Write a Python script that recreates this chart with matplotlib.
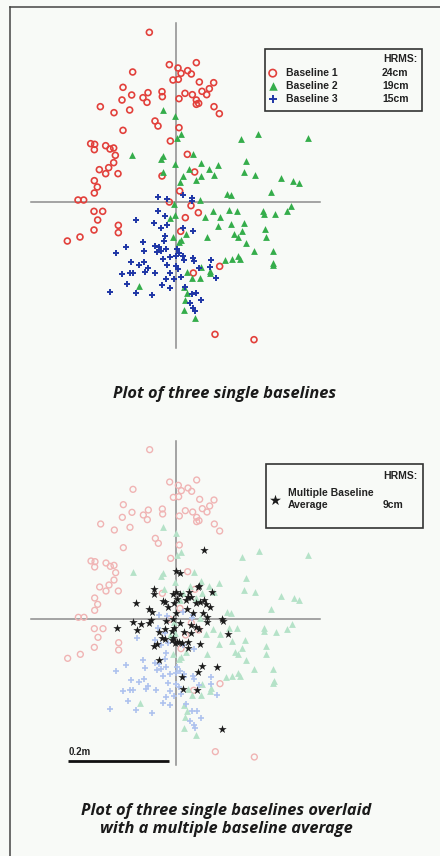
import numpy as np
import matplotlib.pyplot as plt
from matplotlib.patches import Rectangle

# marker positions, in scan units (304 units = 0.2 m),
# origin at the centre of the cross, y up
baseline1 = np.array([
    [-79, 508], [-19, 411], [7, 401], [62, 417], [-129, 389], [16, 385], [36, 393],
    [47, 383], [-8, 365], [8, 367], [71, 359], [114, 357], [-158, 343], [-83, 327],
    [-41, 330], [-40, 315], [-132, 320], [-98, 312], [-86, 298], [-161, 305], [10, 309],
    [28, 325], [50, 321], [79, 331], [93, 321], [101, 339], [62, 305], [69, 295],
    [62, 292], [-226, 285], [-185, 267], [-138, 275], [115, 285], [131, 264], [-62, 242],
    [-53, 227], [10, 222], [-158, 214], [-16, 182], [-255, 174], [-243, 172], [-244, 156],
    [-210, 168], [-197, 158], [-186, 161], [-181, 139], [-186, 117], [-201, 102],
    [-229, 96], [-210, 84], [-173, 84], [35, 142], [57, 89], [-41, 77], [-244, 63],
    [-235, 44], [-244, 26], [12, 32], [-293, 5], [-276, 5], [-19, -1], [46, -12],
    [-245, -29], [-219, -29], [68, -33], [29, -48], [-234, -55], [-172, -71], [-245, -85],
    [-172, -93], [15, -89], [-287, -106], [-325, -118], [132, -194], [53, -214],
    [118, -398], [235, -414]])

baseline2 = np.array([
    [-38, 275], [-1, 258], [15, 202], [3, 192], [197, 187], [248, 203], [397, 191],
    [-130, 140], [-38, 138], [-44, 128], [-3, 112], [53, 142], [75, 115], [128, 109],
    [211, 122], [41, 99], [100, 99], [115, 81], [204, 88], [238, 81], [-37, 89], [22, 77],
    [13, 58], [60, 64], [77, 77], [316, 70], [353, 63], [369, 56], [154, 22], [166, 19],
    [286, 29], [72, 4], [-6, -8], [159, -26], [183, -28], [111, -29], [89, -46],
    [133, -46], [263, -27], [264, -36], [299, -38], [334, -29], [347, -14], [-17, -49],
    [-2, -41], [128, -74], [167, -67], [206, -64], [199, -87], [269, -81], [176, -98],
    [187, -106], [93, -105], [-9, -105], [270, -106], [15, -115], [10, -121], [31, -98],
    [211, -123], [235, -149], [291, -149], [149, -174], [168, -172], [187, -162],
    [193, -172], [104, -207], [102, -215], [77, -195], [293, -185], [291, -191],
    [74, -228], [49, -228], [-109, -253], [25, -257], [33, -275], [28, -295], [24, -326],
    [59, -349], [35, -210]])

baseline3 = np.array([
    [-52, 13], [-26, 8], [22, 20], [50, 11], [49, 2], [-54, -27], [-33, -42], [-118, -56],
    [-64, -64], [-25, -71], [-44, -79], [21, -79], [53, -89], [-99, -122], [-31, -102],
    [-34, -119], [-150, -137], [-179, -155], [-62, -133], [-50, -136], [-45, -149],
    [-57, -152], [-30, -143], [4, -143], [-94, -147], [-17, -166], [1, -163], [23, -164],
    [51, -170], [-96, -181], [-134, -182], [-111, -189], [-83, -200], [-38, -171],
    [0, -194], [24, -175], [106, -175], [55, -179], [104, -195], [-160, -217],
    [-137, -213], [-129, -213], [-91, -210], [-61, -213], [-18, -215], [16, -225],
    [69, -199], [122, -229], [-29, -233], [-5, -231], [-40, -251], [-145, -246],
    [-18, -258], [-119, -273], [-197, -271], [-71, -281], [49, -277], [62, -275],
    [29, -255], [76, -296], [43, -305], [53, -319], [58, -327], [11, -155], [8, -203],
    [-25, -191]])

multi_avg = np.array([
    [83, 207], [-1, 144], [13, 137], [-65, 89], [-66, 75], [-9, 75], [-1, 80], [13, 75],
    [39, 82], [65, 97], [70, 100], [107, 82], [-120, 47], [-40, 55], [-32, 50], [-5, 49],
    [4, 59], [30, 57], [35, 65], [45, 67], [60, 47], [72, 52], [84, 57], [91, 44],
    [103, 37], [-82, 30], [-73, 20], [-23, 37], [-1, 17], [32, 30], [50, 17], [82, 17],
    [93, 7], [137, -1], [142, -6], [-128, -8], [-104, -15], [-80, -11], [-76, -3],
    [-31, -6], [-8, 0], [12, -11], [45, -19], [60, -25], [70, -31], [94, -10],
    [-176, -26], [-118, -33], [-50, -38], [-32, -31], [-12, -35], [-6, -28], [25, -38],
    [45, -41], [157, -45], [-43, -56], [-34, -60], [-13, -63], [-3, -73], [10, -68],
    [17, -73], [35, -68], [35, -88], [72, -76], [-66, -81], [-57, -75], [-9, -56],
    [-51, -123], [77, -140], [122, -143], [65, -160], [17, -173], [20, -210],
    [64, -213], [139, -331], [2, -68]])

labels = ['Baseline 1', 'Baseline 2', 'Baseline 3']
hrms = ['24cm', '19cm', '15cm']
avg_label = 'Multiple Baseline\nAverage'
avg_hrms = '9cm'

UNIT = 0.2 / 304          # metres per scan unit
CROSS_X = (-0.2855, 0.284)
CROSS_Y = (-0.288, 0.352)

W, H = 440, 856
BG = '#f8faf7'
fig = plt.figure(figsize=(W / 100, H / 100), dpi=100, facecolor=BG)
plt.rcParams['font.family'] = ['Liberation Sans', 'DejaVu Sans']


def panel(top, bottom, ox, oy):
    # full-width axes between two pixel rows, cross centre at pixel (ox, oy)
    ax = fig.add_axes([0, 1 - bottom / H, 1, (bottom - top) / H])
    s = 3 * UNIT
    ax.set_xlim(-ox * s, (W - ox) * s)
    ax.set_ylim((oy - bottom) * s, (oy - top) * s)
    ax.axis('off')
    ax.plot(CROSS_X, [0, 0], color='#8c8c8c', lw=1.1, zorder=1)
    ax.plot([0, 0], CROSS_Y, color='#8c8c8c', lw=1.1, zorder=1)
    return ax


def fx(px):
    return px / W


def fy(py):
    return 1 - py / H


# ---- top panel: three single baselines
ax1 = panel(0, 380, 175.67, 201.67)
h1 = ax1.scatter(*(baseline1 * UNIT).T, s=18, facecolors='none', edgecolors='#e2403b', linewidths=1.2, zorder=3)
h2 = ax1.scatter(*(baseline2 * UNIT).T, s=24, marker='^', color='#35ad4b', linewidths=0, zorder=3)
h3 = ax1.scatter(*(baseline3 * UNIT).T, s=22, marker='+', color='#1f36a6', linewidths=1.4, zorder=4)

fig.patches.append(Rectangle((fx(265), fy(110.7)), fx(157), 62.2 / H, transform=fig.transFigure,
                             fill=False, edgecolor='#333333', lw=1.2))
fig.legend([h1, h2, h3], labels, loc='center left', bbox_to_anchor=(fx(267.5), fy(86)),
           frameon=False, prop={'weight': 'bold', 'size': 7.5}, markerscale=1.25,
           handlelength=1.0, handletextpad=0.75, borderpad=0, borderaxespad=0,
           labelspacing=0.3, labelcolor='#222222')
fig.text(fx(417), fy(59.3), 'HRMS:', ha='right', va='center', fontsize=7.5, fontweight='bold', color='#222222')
for i, v in enumerate(hrms):
    fig.text(fx(382), fy(72.7 + 13.3 * i), v, ha='left', va='center', fontsize=7.5,
             fontweight='bold', color='#222222')

fig.text(fx(225), fy(394), 'Plot of three single baselines', ha='center', va='center',
         fontsize=11.8, fontweight='bold', style='italic', family=['Open Sans', 'DejaVu Sans'],
         color='#1a1a1a')

# ---- bottom panel: baselines faded, multiple baseline average on top
ax2 = panel(420, 856, 176, 619)
ax2.scatter(*(baseline1 * UNIT).T, s=18, facecolors='none', edgecolors='#f0b4b4', linewidths=1.0, zorder=2)
ax2.scatter(*(baseline2 * UNIT).T, s=24, marker='^', color='#b5e2c8', linewidths=0, zorder=2)
ax2.scatter(*(baseline3 * UNIT).T, s=22, marker='+', color='#aec2ee', linewidths=1.2, zorder=2)
h4 = ax2.scatter(*(multi_avg * UNIT).T, s=40, marker='*', color='#1c1c1c', linewidths=0, zorder=4)

# scale bar
bar_x0, bar_y = -325 * UNIT, -425 * UNIT
ax2.plot([bar_x0, bar_x0 + 0.2], [bar_y, bar_y], color='#111111', lw=2, solid_capstyle='butt')
ax2.text(bar_x0 + 0.001, bar_y + 0.008, '0.2m', ha='left', va='bottom', fontsize=7,
         fontweight='bold', color='#222222')

fig.patches.append(Rectangle((fx(265.7), fy(527.7)), fx(157), 63.4 / H, transform=fig.transFigure,
                             fill=False, edgecolor='#333333', lw=1.2))
fig.legend([h4], [avg_label], loc='center left', bbox_to_anchor=(fx(269.5), fy(499)),
           frameon=False, prop={'weight': 'bold', 'size': 7.5}, markerscale=1.3,
           handlelength=1.0, handletextpad=0.75, borderpad=0, borderaxespad=0,
           labelcolor='#222222')
fig.text(fx(417), fy(476), 'HRMS:', ha='right', va='center', fontsize=7.5, fontweight='bold', color='#222222')
fig.text(fx(382.7), fy(505), avg_hrms, ha='left', va='center', fontsize=7.5, fontweight='bold', color='#222222')

fig.text(fx(226), fy(820), 'Plot of three single baselines overlaid\nwith a multiple baseline average',
         ha='center', va='center', fontsize=11.8, fontweight='bold', style='italic',
         family=['Open Sans', 'DejaVu Sans'], color='#1a1a1a', linespacing=1.1)

# page frame (left and top edges of the scanned box)
fig.lines.append(plt.Line2D([fx(10), fx(10)], [0, fy(7.3)], transform=fig.transFigure, color='#444444', lw=1.1))
fig.lines.append(plt.Line2D([fx(10), 1], [fy(7.3), fy(7.3)], transform=fig.transFigure, color='#444444', lw=1.1))

fig.savefig('out.png', dpi=100, facecolor=BG)
